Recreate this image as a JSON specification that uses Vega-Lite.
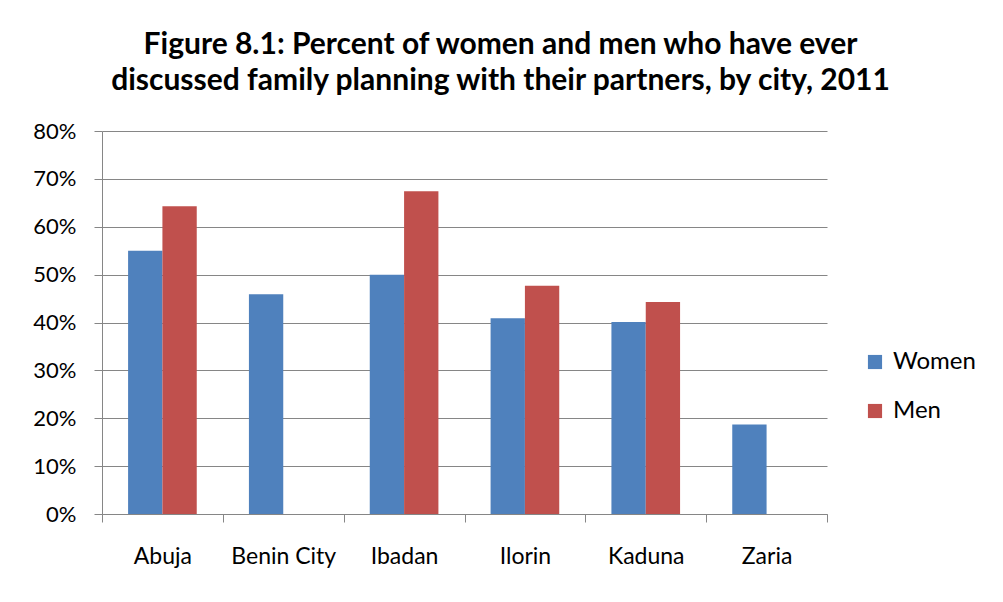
{
  "$schema": "https://vega.github.io/schema/vega-lite/v6.json",
  "width": 725,
  "height": 383,
  "autosize": {"type": "none"},
  "padding": {"left": 102, "top": 131, "right": 176, "bottom": 88},
  "background": "white",
  "title": {
    "text": ["Figure 8.1: Percent of women and men who have ever", "discussed family planning with their partners, by city, 2011"],
    "font": "Lato",
    "fontSize": 30,
    "fontWeight": "bold",
    "color": "black",
    "anchor": "middle",
    "lineHeight": 36,
    "dx": 36,
    "offset": 24
  },
  "data": {
    "values": [
      {"city": "Abuja", "sex": "Women", "pct": 0.55},
      {"city": "Abuja", "sex": "Men", "pct": 0.643},
      {"city": "Benin City", "sex": "Women", "pct": 0.459},
      {"city": "Ibadan", "sex": "Women", "pct": 0.50},
      {"city": "Ibadan", "sex": "Men", "pct": 0.674},
      {"city": "Ilorin", "sex": "Women", "pct": 0.409},
      {"city": "Ilorin", "sex": "Men", "pct": 0.477},
      {"city": "Kaduna", "sex": "Women", "pct": 0.401},
      {"city": "Kaduna", "sex": "Men", "pct": 0.443},
      {"city": "Zaria", "sex": "Women", "pct": 0.187}
    ]
  },
  "mark": {"type": "bar"},
  "encoding": {
    "x": {
      "field": "city",
      "type": "nominal",
      "sort": ["Abuja", "Benin City", "Ibadan", "Ilorin", "Kaduna", "Zaria"],
      "scale": {"paddingInner": 0, "paddingOuter": 0},
      "axis": {
        "title": null,
        "labelAngle": 0,
        "tickBand": "extent",
        "tickSize": 8,
        "tickColor": "#868686",
        "domainColor": "#868686",
        "labelFont": "Lato",
        "labelFontSize": 23,
        "labelColor": "black",
        "labelPadding": 23,
        "grid": false
      }
    },
    "xOffset": {
      "field": "sex",
      "type": "nominal",
      "sort": ["Women", "Men"],
      "scale": {"domain": ["Women", "Men"], "paddingInner": 0, "paddingOuter": 0.76}
    },
    "y": {
      "field": "pct",
      "type": "quantitative",
      "scale": {"domain": [0, 0.8], "nice": false},
      "axis": {
        "title": null,
        "values": [0, 0.1, 0.2, 0.3, 0.4, 0.5, 0.6, 0.7, 0.8],
        "format": ".0%",
        "tickSize": 8,
        "tickColor": "#868686",
        "domainColor": "#868686",
        "gridColor": "#868686",
        "labelFont": "Lato",
        "labelFontSize": 22,
        "labelColor": "black",
        "labelPadding": 18
      }
    },
    "color": {
      "field": "sex",
      "type": "nominal",
      "scale": {"domain": ["Women", "Men"], "range": ["#4F81BD", "#C0504D"]},
      "legend": {
        "title": null,
        "orient": "none",
        "legendX": 761,
        "legendY": 219,
        "symbolType": "square",
        "symbolSize": 200,
        "symbolStrokeWidth": 0,
        "labelFont": "Lato",
        "labelFontSize": 24,
        "labelColor": "black",
        "labelOffset": 6,
        "rowPadding": 25
      }
    }
  },
  "config": {
    "view": {"stroke": null},
    "axis": {"domainWidth": 1, "tickWidth": 1, "gridWidth": 1}
  }
}
